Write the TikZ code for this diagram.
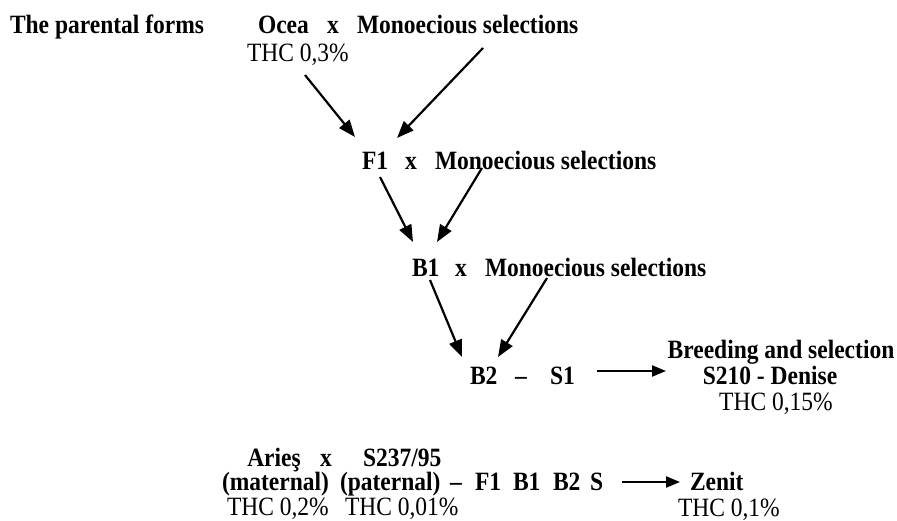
\documentclass[tikz,border=0pt]{standalone}
\usepackage{fontspec}
\setmainfont{Liberation Serif}[FakeStretch=0.89]
\usetikzlibrary{arrows.meta}
\begin{document}
\begin{tikzpicture}[x=1pt,y=-1pt,
  txt/.style={inner sep=0pt,outer sep=0pt,anchor=base west,font=\fontsize{26.4}{28}\selectfont\bfseries},
  thc/.style={inner sep=0pt,outer sep=0pt,anchor=base west,font=\fontsize{26.4}{28}\selectfont},
  ctxt/.style={txt,anchor=base},
  cthc/.style={thc,anchor=base},
  arr/.style={line width=2.2pt,-{Triangle[length=17pt,width=13pt]}},
  harr/.style={line width=2.2pt,-{Triangle[length=14pt,width=11pt]}}]
\useasboundingbox (0,0) rectangle (897,520);
% row 1
\node[txt] (parental) at (10,33) {The parental forms};
\node[txt] (ocea) at (258,33) {Ocea};
\node[txt] (x1) at (327,33) {x};
\node[txt] (mono1) at (357,33) {Monoecious selections};
\node[thc] (thc1) at (247,61) {THC 0,3\%};
% row F1
\node[txt] (f1) at (362,169) {F1};
\node[txt] (x2) at (405,169) {x};
\node[txt] (mono2) at (435,169) {Monoecious selections};
% row B1
\node[txt] (b1) at (412,276) {B1};
\node[txt] (x3) at (455,276) {x};
\node[txt] (mono3) at (485,276) {Monoecious selections};
% row B2
\node[txt] (b2) at (470,384) {B2};
\node[txt] (dash1) at (515,384) {–};
\node[txt] (s1) at (550,384) {S1};
\node[ctxt] (breed) at (781,358) {Breeding and selection};
\node[ctxt] (denise) at (770,384) {S210 - Denise};
\node[cthc] (thc2) at (776,410) {THC 0,15\%};
% bottom
\node[ctxt] (aries) at (274,466) {Arieş};
\node[txt] (x4) at (320,466) {x};
\node[txt] (s237) at (363,466) {S237/95};
\node[txt] (mat) at (222,490) {(maternal)};
\node[txt] (pat) at (340,490) {(paternal)};
\node[txt] (dash2) at (450,490) {–};
\node[txt] (f1b) at (475,490) {F1};
\node[txt] (b1b) at (513,490) {B1};
\node[txt] (b2b) at (553,490) {B2};
\node[txt] (sb) at (590,490) {S};
\node[txt] (zenit) at (690,490) {Zenit};
\node[thc] (thc3) at (227,515) {THC 0,2\%};
\node[thc] (thc4) at (345,515) {THC 0,01\%};
\node[thc] (thc5) at (678,516) {THC 0,1\%};
% arrow end points
\coordinate (a1s) at (305,75);  \coordinate (a1e) at (355,137);
\coordinate (a2s) at (483,48);  \coordinate (a2e) at (397,138);
\coordinate (a3s) at (380,177); \coordinate (a3e) at (413,242);
\coordinate (a4s) at (482,168); \coordinate (a4e) at (437,242);
\coordinate (a5s) at (430,280); \coordinate (a5e) at (462,357);
\coordinate (a6s) at (547,278); \coordinate (a6e) at (498,357);
\coordinate (h1s) at (597,371); \coordinate (h1e) at (666,371);
\coordinate (h2s) at (622,482); \coordinate (h2e) at (680,482);
\draw[arr] (a1s) -- (a1e);
\draw[arr] (a2s) -- (a2e);
\draw[arr] (a3s) -- (a3e);
\draw[arr] (a4s) -- (a4e);
\draw[arr] (a5s) -- (a5e);
\draw[arr] (a6s) -- (a6e);
\draw[harr] (h1s) -- (h1e);
\draw[harr] (h2s) -- (h2e);
\end{tikzpicture}
\end{document}
